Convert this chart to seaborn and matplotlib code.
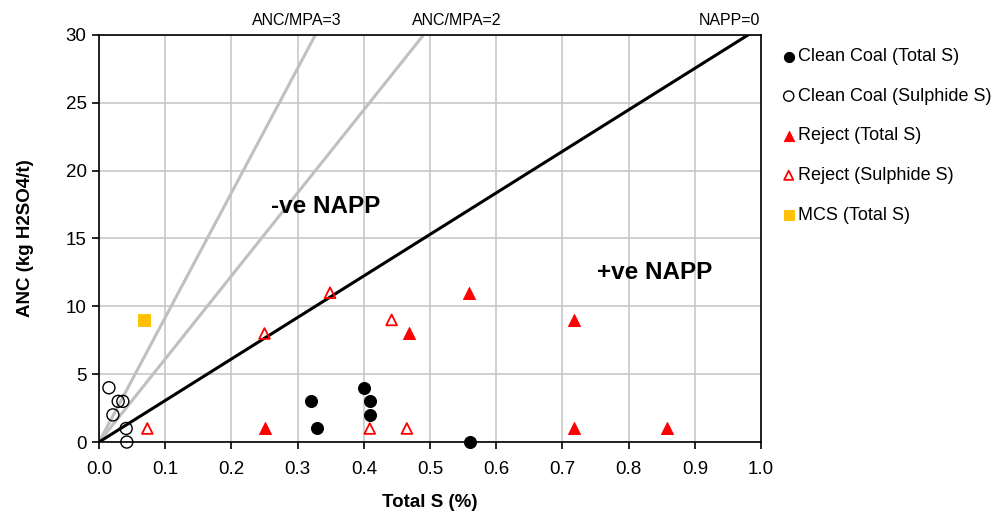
import matplotlib
matplotlib.use("Agg")
import matplotlib.pyplot as plt
import seaborn as sns
import numpy as np
import pandas as pd

cc_total_x = [0.32, 0.33, 0.40, 0.41, 0.41, 0.56]
cc_total_y = [3, 1, 4, 3, 2, 0]
cc_sulph_x = [0.015, 0.029, 0.036, 0.021, 0.041, 0.042]
cc_sulph_y = [4, 3, 3, 2, 1, 0]
rej_total_x = [0.25, 0.468, 0.559, 0.717, 0.717, 0.858]
rej_total_y = [1, 8, 11, 9, 1, 1]
rej_sulph_x = [0.073, 0.25, 0.349, 0.442, 0.409, 0.465]
rej_sulph_y = [1, 8, 11, 9, 1, 1]
mcs_x = [0.068]
mcs_y = [9]

mpa_factor = 30.6
ratio_lines = [("ANC/MPA=3", 3, 0.298), ("ANC/MPA=2", 2, 0.541)]

sns.set_theme(style="white")
plt.rcParams['font.family'] = ['Liberation Sans', 'DejaVu Sans']
for k in ["text.color", "axes.labelcolor", "xtick.color", "ytick.color"]:
    plt.rcParams[k] = "black"

fig = plt.figure(figsize=(9.93, 5.14), dpi=100)
ax = fig.add_axes([0.0997, 0.140, 0.6667, 0.792])

# Lines
xs = np.array([0.0, 1.0])
for lab, r, _ in ratio_lines:
    ax.plot(xs, r * mpa_factor * xs, color="#c0c0c0", lw=2.2, zorder=2)
ax.plot(xs, mpa_factor * xs, color="black", lw=2.2, zorder=2)

series = [
    ("Clean Coal (Total S)", cc_total_x, cc_total_y, dict(marker="o", s=75, color="black", edgecolor="black")),
    ("Clean Coal (Sulphide S)", cc_sulph_x, cc_sulph_y, dict(marker="o", s=75, facecolor="none", edgecolor="black", linewidth=1.0)),
    ("Reject (Total S)", rej_total_x, rej_total_y, dict(marker="^", s=75, color="red", edgecolor="red")),
    ("Reject (Sulphide S)", rej_sulph_x, rej_sulph_y, dict(marker="^", s=60, facecolor="none", edgecolor="red", linewidth=1.3)),
    ("MCS (Total S)", mcs_x, mcs_y, dict(marker="s", s=65, color="#FFC000", edgecolor="#FFC000")),
]
for name, x, y, kw in series:
    df = pd.DataFrame({"x": x, "y": y})
    sns.scatterplot(data=df, x="x", y="y", ax=ax, label=name, zorder=5, clip_on=False, **kw)

ax.set_xlim(0, 1.0)
ax.set_ylim(0, 30)
ax.set_xticks(np.arange(0, 1.01, 0.1))
ax.set_xticklabels([f"{v:.1f}" for v in np.arange(0, 1.01, 0.1)])
ax.set_yticks(np.arange(0, 31, 5))
ax.grid(True, color="#c8c8c8", lw=1.2)
ax.set_axisbelow(True)
for sp in ax.spines.values():
    sp.set_color("black")
    sp.set_linewidth(1.2)
ax.tick_params(axis="both", direction="out", length=5, width=1.2, color="black",
               labelsize=13.5, bottom=True, left=True)
ax.tick_params(axis="x", pad=9)
ax.tick_params(axis="y", pad=4)
ax.set_xlabel("Total S (%)", fontsize=13.5, fontweight="bold", labelpad=11)
ax.set_ylabel("ANC (kg H2SO4/t)", fontsize=13.5, fontweight="bold", labelpad=23)

# annotations
ax.text(0.342, 17.35, "-ve NAPP", fontsize=17.5, fontweight="bold", ha="center", va="center")
ax.text(0.84, 12.5, "+ve NAPP", fontsize=17.5, fontweight="bold", ha="center", va="center")
for lab, r, xpos in ratio_lines:
    ax.text(xpos, 30.5, lab, fontsize=11.5, ha="center", va="bottom")
ax.text(0.953, 30.5, "NAPP=0", fontsize=11.5, ha="center", va="bottom")

h, l = ax.get_legend_handles_labels()
ax.legend(h, l, loc="upper left", bbox_to_anchor=(1.02, 0.985), frameon=False,
          fontsize=13, handletextpad=0.1, labelspacing=1.25, markerscale=0.85,
          borderaxespad=0, handlelength=0.8)

fig.savefig("out.png", dpi=100)
